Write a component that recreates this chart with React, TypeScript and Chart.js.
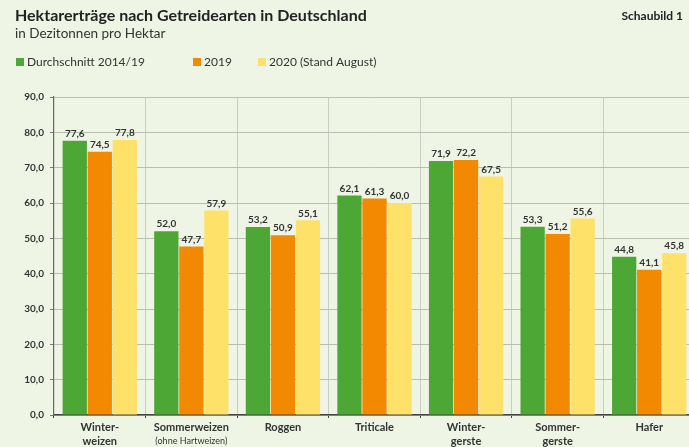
import React, { useEffect, useRef } from "react";
import { Chart, registerables } from "chart.js";

Chart.register(...registerables);

const categories: string[][] = [
  ["Winter-", "weizen"],
  ["Sommerweizen", "(ohne Hartweizen)"],
  ["Roggen"],
  ["Triticale"],
  ["Winter-", "gerste"],
  ["Sommer-", "gerste"],
  ["Hafer"],
];
const seriesNames = ["Durchschnitt 2014/19", "2019", "2020 (Stand August)"];
const avg1419 = [77.6, 52.0, 53.2, 62.1, 71.9, 53.3, 44.8];
const y2019 = [74.5, 47.7, 50.9, 61.3, 72.2, 51.2, 41.1];
const y2020 = [77.8, 57.9, 55.1, 60.0, 67.5, 55.6, 45.8];
const yTicks = [0, 10, 20, 30, 40, 50, 60, 70, 80, 90];

const title = "Hektarerträge nach Getreidearten in Deutschland";
const subtitle = "in Dezitonnen pro Hektar";
const figLabel = "Schaubild 1";

const colors = ["#4da734", "#f28900", "#fde168"];
const BG = "#eff5e5";
const FONT = "Lato, 'Open Sans', sans-serif";
const fmt = (v: number) => v.toFixed(1).replace(".", ",");

export default function App() {
  const ref = useRef<HTMLCanvasElement | null>(null);

  useEffect(() => {
    document.body.style.margin = "0";
    document.documentElement.style.overflow = "hidden";
    const canvas = ref.current!;

    const headerPlugin = {
      id: "header",
      beforeDraw(chart: any) {
        const ctx = chart.ctx;
        ctx.save();
        ctx.fillStyle = BG;
        ctx.fillRect(0, 0, chart.width, chart.height);
        ctx.fillStyle = "#222";
        ctx.textBaseline = "alphabetic";
        ctx.textAlign = "left";
        ctx.font = `bold 16px ${FONT}`;
        ctx.fillText(title, 15, 21);
        ctx.font = `13.5px ${FONT}`;
        ctx.fillStyle = "#333";
        ctx.fillText(subtitle, 15, 38);
        ctx.font = `bold 12px ${FONT}`;
        ctx.fillStyle = "#222";
        ctx.textAlign = "right";
        ctx.fillText(figLabel, 683, 20);
        // legend
        const lx = [16, 193, 258];
        ctx.textAlign = "left";
        ctx.font = `12px ${FONT}`;
        seriesNames.forEach((n, i) => {
          ctx.fillStyle = colors[i];
          ctx.fillRect(lx[i], 58, 8, 8);
          ctx.fillStyle = "#333";
          ctx.fillText(n, lx[i] + 11, 66);
        });
        ctx.restore();
      },
      afterDatasetsDraw(chart: any) {
        const ctx = chart.ctx;
        ctx.save();
        ctx.font = `bold 10px ${FONT}`;
        ctx.fillStyle = "#333";
        ctx.textAlign = "center";
        ctx.textBaseline = "bottom";
        chart.data.datasets.forEach((ds: any, di: number) => {
          const meta = chart.getDatasetMeta(di);
          meta.data.forEach((el: any, i: number) => {
            ctx.fillText(fmt(ds.data[i]), el.x, el.y - 2);
          });
        });
        // x labels
        const xs = chart.scales.x;
        const base = chart.chartArea.bottom;
        categories.forEach((lines, i) => {
          const x = xs.getPixelForValue(i);
          lines.forEach((t, li) => {
            const small = t.startsWith("(");
            ctx.font = small ? `9px ${FONT}` : `bold 11px ${FONT}`;
            ctx.fillStyle = "#333";
            ctx.textBaseline = "middle";
            ctx.fillText(t, x, base + 12 + li * 14);
          });
        });
        ctx.restore();
      },
    };

    const chart = new Chart(canvas, {
      type: "bar",
      data: {
        labels: categories.map((c) => c.join(" ")),
        datasets: [avg1419, y2019, y2020].map((d, i) => ({
          label: seriesNames[i],
          data: d,
          backgroundColor: colors[i],
          borderWidth: 0,
          categoryPercentage: 0.82,
          barPercentage: 0.97,
        })),
      },
      options: {
        animation: false,
        responsive: false,
        devicePixelRatio: 1,
        layout: { padding: { top: 97, left: 0, right: 0, bottom: 0 } },
        plugins: { legend: { display: false }, tooltip: { enabled: false }, title: { display: false } },
        scales: {
          x: {
            offset: true,
            grid: {
              offset: true,
              color: "#c9cdc2",
              lineWidth: 1,
              drawTicks: true,
              tickLength: 3,
              tickColor: "#444",
            },
            border: { color: "#444", width: 1.5 },
            ticks: { display: false },
            afterFit: (s: any) => {
              s.height = 32;
            },
          },
          y: {
            min: 0,
            max: 90,
            afterBuildTicks: (s: any) => {
              s.ticks = yTicks.map((v) => ({ value: v }));
            },
            grid: {
              color: "#b9bdb2",
              lineWidth: 1,
              drawTicks: true,
              tickLength: 4,
              tickColor: "#777",
            },
            border: { color: "#666", width: 1.2 },
            ticks: {
              padding: 6,
              color: "#333",
              font: { family: FONT, size: 10, weight: "bold" },
              callback: (v: any) => fmt(Number(v)),
            },
            afterFit: (s: any) => {
              s.width = 54;
            },
          },
        },
      },
      plugins: [headerPlugin],
    } as any);
    return () => chart.destroy();
  }, []);

  return (
    <div style={{ width: 689, height: 447, overflow: "hidden", position: "relative", background: BG }}>
      <canvas ref={ref} width={695} height={447} style={{ display: "block", width: 695, height: 447 }} />
    </div>
  );
}
